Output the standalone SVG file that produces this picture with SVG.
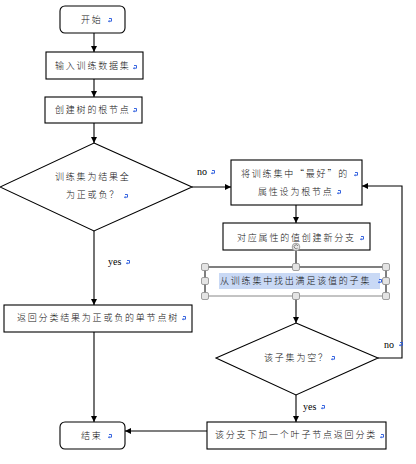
<svg xmlns="http://www.w3.org/2000/svg" width="416" height="464" viewBox="0 0 416 464">
<defs>
<style>
.box{fill:#fff;stroke:#000;stroke-width:1.1}
.t{font-family:"Noto Sans CJK SC","Noto Sans CJK JP",sans-serif;font-size:9px;font-weight:300;letter-spacing:1.8px;fill:#111}
.l{font-family:"Liberation Serif",serif;font-size:10px;fill:#000}
.c{fill:none;stroke:#000;stroke-width:1.1}
.h{fill:#e4e4e4;stroke:#8c8c8c;stroke-width:0.8}
</style>
<marker id="ah" viewBox="0 0 8 8" refX="8" refY="4" markerWidth="6" markerHeight="6" markerUnits="userSpaceOnUse" orient="auto">
<path d="M0,0 L8,4 L0,8 Z" fill="#000"/>
</marker>
<g id="pm"><path d="M-1,-1.5 L1.5,-1.5 L1.5,1.2 L-1.2,1.2" fill="none" stroke="#2255dd" stroke-width="0.9"/><path d="M-2,1.2 L-0.6,0 L-0.6,2.4 Z" fill="#2255dd"/></g>
</defs>
<rect width="416" height="464" fill="#fff"/>

<g id="connectors">
<path class="c" d="M94,33 V52" marker-end="url(#ah)"/>
<path class="c" d="M94,79 V97" marker-end="url(#ah)"/>
<path class="c" d="M94,123 V143" marker-end="url(#ah)"/>
<path class="c" d="M94,231 V305" marker-end="url(#ah)"/>
<path class="c" d="M94,332 V422" marker-end="url(#ah)"/>
<path class="c" d="M192,187 H231" marker-end="url(#ah)"/>
<path class="c" d="M296,205 V223" marker-end="url(#ah)"/>
<path class="c" d="M296,250 V267"/>
<path class="c" d="M296,296 V323" marker-end="url(#ah)"/>
<path class="c" d="M296,395 V422" marker-end="url(#ah)"/>
<path class="c" d="M378,358 H402 V186 H362" marker-end="url(#ah)"/>
<path class="c" d="M207,431 H125" marker-end="url(#ah)"/>
<text class="l" x="197" y="175">no</text>
<use href="#pm" x="213" y="172"/>
<text class="l" x="108" y="265">yes</text>
<use href="#pm" x="128" y="262"/>
<text class="l" x="384" y="348">no</text>
<use href="#pm" x="401" y="344"/>
<text class="l" x="303" y="410">yes</text>
<use href="#pm" x="323" y="407"/>
</g>

<g id="start">
<rect class="box" x="60" y="6" width="65" height="27" rx="5"/>
<text class="t" x="81" y="23">开始</text>
<use href="#pm" x="110" y="20"/>
</g>

<g id="input">
<rect class="box" x="46" y="52" width="97" height="27"/>
<text class="t" x="55" y="69">输入训练数据集</text>
<use href="#pm" x="135" y="67"/>
</g>

<g id="root">
<rect class="box" x="45" y="97" width="97" height="26"/>
<text class="t" x="55" y="113">创建树的根节点</text>
<use href="#pm" x="135" y="110"/>
</g>

<g id="decision1">
<path class="box" d="M94,143 L192,187 L94,231 L0,187 Z"/>
<text class="t" x="55" y="180">训练集为结果全</text>
<text class="t" x="66" y="198">为正或负？</text>
<use href="#pm" x="126" y="196"/>
</g>

<g id="best">
<rect class="box" x="231" y="160" width="131" height="45"/>
<text class="t" x="241" y="177" letter-spacing="1.4">将训练集中“最好”的</text>
<use href="#pm" x="356" y="174"/>
<text class="t" x="258" y="195">属性设为根节点</text>
<use href="#pm" x="339" y="192"/>
</g>

<g id="branch">
<rect class="box" x="223" y="223" width="147" height="27"/>
<text class="t" x="237" y="241">对应属性的值创建新分支</text>
<use href="#pm" x="362" y="238"/>
<circle cx="296" cy="247" r="3.8" fill="#e8e8e8" stroke="#8c8c8c" stroke-width="0.8"/>
<path d="M298,246 A2,2 0 1 0 297.6,248.2" fill="none" stroke="#555" stroke-width="0.7"/>
</g>

<g id="subset">
<rect x="205" y="267" width="181" height="29" fill="#fff" stroke="none"/>
<path d="M205,267 H386" stroke="#000" stroke-width="1.2"/>
<path d="M205,296 H386" stroke="#888" stroke-width="1"/>
<path d="M205,267 V296 M386,267 V296" stroke="#000" stroke-width="1"/>
<rect x="219" y="273" width="161" height="16" fill="#c9d9f5"/>
<text class="t" x="220" y="284">从训练集中找出满足该值的子集</text>
<use href="#pm" x="380" y="281"/>
<rect class="h" x="201.5" y="263.5" width="7" height="7" rx="1.5"/>
<rect class="h" x="292.5" y="263.5" width="7" height="7" rx="1.5"/>
<rect class="h" x="382.5" y="263.5" width="7" height="7" rx="1.5"/>
<rect class="h" x="201.5" y="277.5" width="7" height="7" rx="1.5"/>
<rect class="h" x="382.5" y="277.5" width="7" height="7" rx="1.5"/>
<rect class="h" x="201.5" y="292.5" width="7" height="7" rx="1.5"/>
<rect class="h" x="292.5" y="292.5" width="7" height="7" rx="1.5"/>
<rect class="h" x="382.5" y="292.5" width="7" height="7" rx="1.5"/>
</g>

<g id="single">
<rect class="box" x="4" y="305" width="188" height="27"/>
<text class="t" x="17" y="321" letter-spacing="1.6">返回分类结果为正或负的单节点树</text>
<use href="#pm" x="184" y="318"/>
</g>

<g id="decision2">
<path class="box" d="M296,323 L378,358 L296,395 L216,358 Z"/>
<text class="t" x="264" y="361">该子集为空？</text>
<use href="#pm" x="333" y="358"/>
</g>

<g id="leaf">
<rect class="box" x="207" y="422" width="179" height="27"/>
<text class="t" x="215" y="438" letter-spacing="1.6">该分支下加一个叶子节点返回分类</text>
<use href="#pm" x="382" y="436"/>
</g>

<g id="end">
<rect class="box" x="60" y="422" width="65" height="27" rx="5"/>
<text class="t" x="81" y="439">结束</text>
<use href="#pm" x="110" y="436"/>
</g>
</svg>
